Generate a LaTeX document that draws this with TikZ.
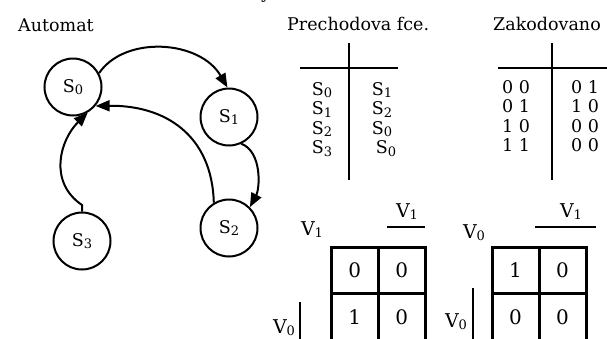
\documentclass[tikz,border=0pt]{standalone}
\usepackage{fontspec}
\setmainfont{DejaVu Serif}
\usetikzlibrary{arrows.meta}
\newcommand{\sbs}[1]{\raisebox{-2.5pt}{\fontsize{13}{13}\selectfont #1}}
\begin{document}
\begin{tikzpicture}[x=1pt,y=1pt,font=\fontsize{17.5}{17.5}\selectfont,
  state/.style={circle,draw,line width=2pt,minimum size=57pt,inner sep=0pt},
  trans/.style={line width=2pt,-{Triangle[length=14pt,width=11pt]}},
  rulel/.style={line width=2.5pt},
  lbl/.style={anchor=base,inner sep=0pt},
  lblw/.style={anchor=base west,inner sep=0pt},
  klbl/.style={anchor=base,inner sep=0pt,font=\fontsize{19}{19}\selectfont},
  kcell/.style={draw,line width=3pt,minimum width=47pt,minimum height=46.5pt,inner sep=0pt,font=\fontsize{20}{20}\selectfont}]
\useasboundingbox (0,0) rectangle (607,-338);
% clipped fragment at top
\node[lbl] (ytop) at (266,1.5) {y};
% titles
\node[lblw] (tA) at (18,-31) {Automat};
\node[lblw] (tP) at (287,-30) {Prechodova fce.};
\node[lblw] (tZ) at (493,-30) {Zakodovano};
% automaton
\node[state] (S0) at (73,-87) {S\sbs{0}};
\node[state] (S1) at (229,-117) {S\sbs{1}};
\node[state] (S2) at (229,-228) {S\sbs{2}};
\node[state] (S3) at (82,-241) {S\sbs{3}};
\coordinate (m3) at (82,-205);
\draw[trans] (S0.28) .. controls (125,-35) and (200,-40) .. (S1.93);
\draw[trans] (S1.-65) .. controls (262,-152) and (260,-188) .. (S2.45);
\draw[trans] (S2.121) .. controls (212,-135) and (165,-105) .. (S0.-40);
\draw[trans] (S3.north) -- (m3) .. controls (48,-182) and (60,-140) .. (S0.-60);
% table 1
\draw[rulel] (349,-43) -- (349,-180);
\draw[rulel] (300,-68) -- (398,-68);
\node[lbl] (a0) at (322,-95) {S\sbs{0}};
\node[lbl] (a1) at (322,-114.5) {S\sbs{1}};
\node[lbl] (a2) at (322,-134) {S\sbs{2}};
\node[lbl] (a3) at (322,-153.5) {S\sbs{3}};
\node[lbl] (b0) at (382,-95) {S\sbs{1}};
\node[lbl] (b1) at (382,-114.5) {S\sbs{2}};
\node[lbl] (b2) at (382,-134) {S\sbs{0}};
\node[lbl] (b3) at (386,-153.5) {S\sbs{0}};
% table 2
\draw[rulel] (552,-43) -- (552,-180);
\draw[rulel] (498,-68) -- (610,-68);
\node[lbl] (c0) at (516,-93) {0 0};
\node[lbl] (c1) at (516,-112.5) {0 1};
\node[lbl] (c2) at (516,-132) {1 0};
\node[lbl] (c3) at (516,-151.5) {1 1};
\node[lbl] (d0) at (585,-93) {0 1};
\node[lbl] (d1) at (585,-112.5) {1 0};
\node[lbl] (d2) at (585,-132) {0 0};
\node[lbl] (d3) at (585,-151.5) {0 0};
% K-map 1
\node[kcell] (k100) at (354.75,-270.25) {0};
\node[kcell] (k101) at (401.75,-270.25) {0};
\node[kcell] (k110) at (354.75,-316.75) {1};
\node[kcell] (k111) at (401.75,-316.75) {0};
\node[klbl] (k1tl) at (312,-235) {V\sbs{1}};
\node[klbl] (k1tr) at (407,-217) {V\sbs{1}};
\draw[rulel] (387,-227) -- (425,-227);
\node[klbl] (k1l) at (284,-333) {V\sbs{0}};
\draw[rulel] (300,-302) -- (300,-340);
% K-map 2
\node[kcell] (k200) at (515.5,-270.25) {1};
\node[kcell] (k201) at (562.5,-270.25) {0};
\node[kcell] (k210) at (515.5,-316.75) {0};
\node[kcell] (k211) at (562.5,-316.75) {0};
\node[klbl] (k2tl) at (474,-238) {V\sbs{0}};
\node[klbl] (k2tr) at (571,-217) {V\sbs{1}};
\draw[rulel] (535,-227) -- (596,-227);
\node[klbl] (k2l) at (456,-327) {V\sbs{0}};
\draw[rulel] (473,-288) -- (473,-340);
\end{tikzpicture}
\end{document}
